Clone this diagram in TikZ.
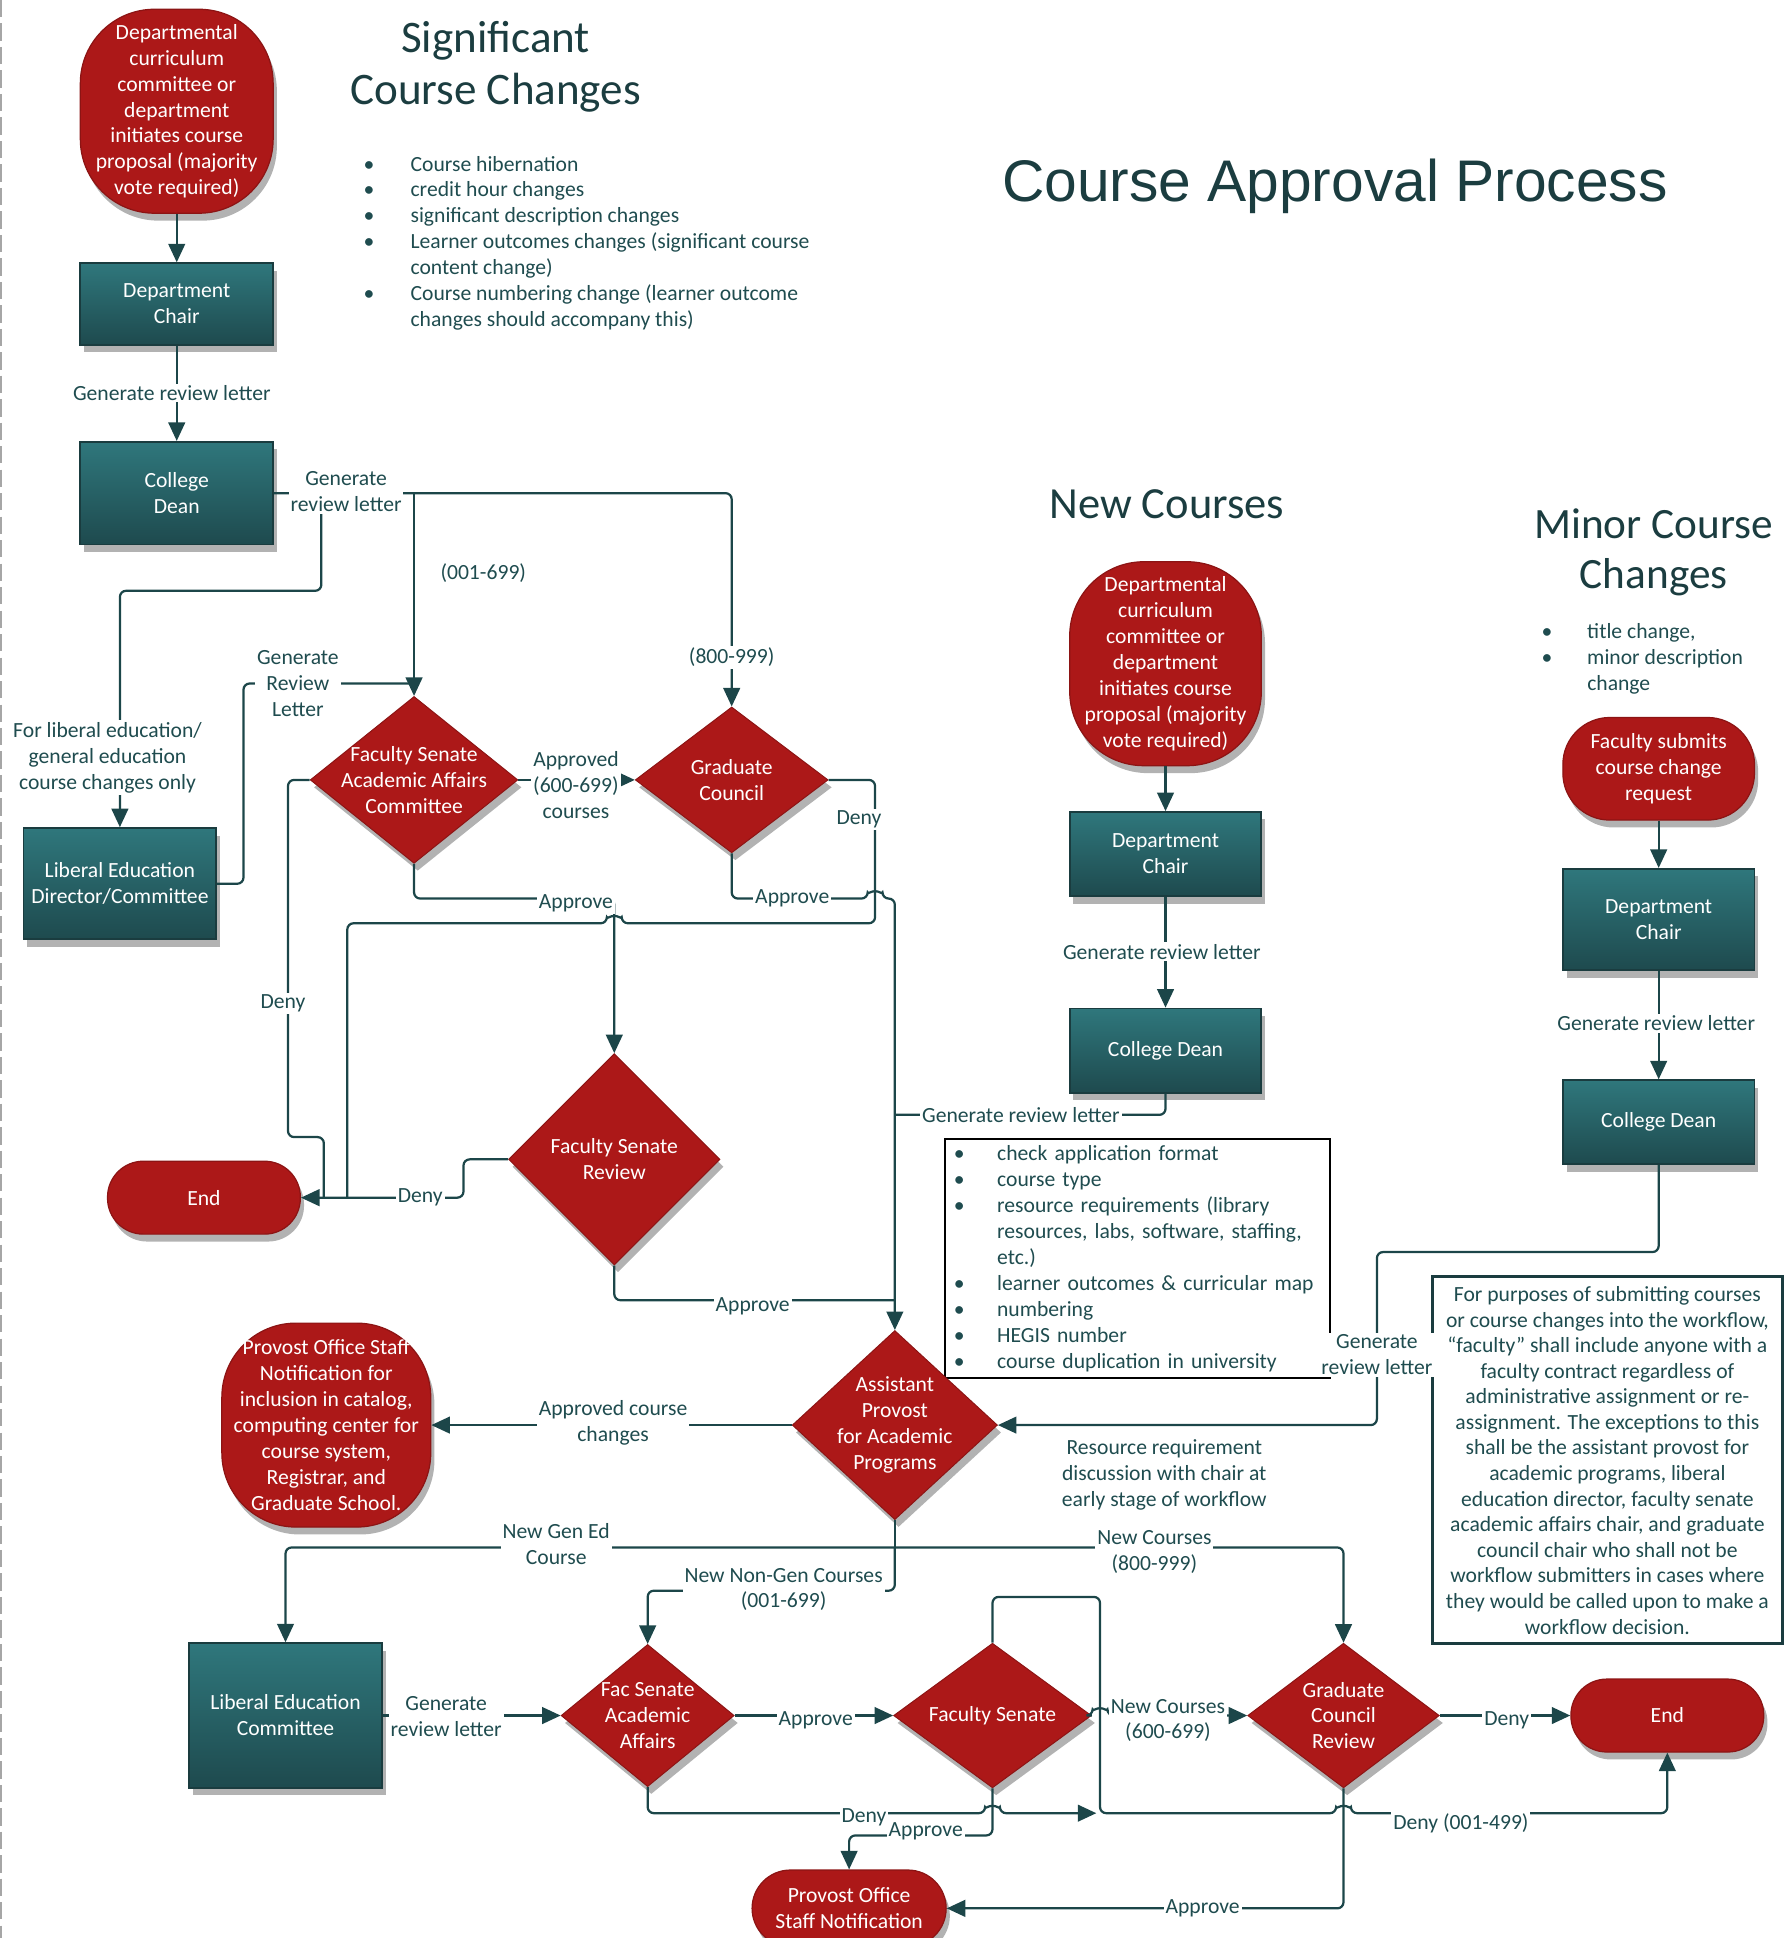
\documentclass[tikz,border=0pt]{standalone}
\usepackage{fontspec}
\setmainfont{Carlito}
\newfontfamily\arialf{Liberation Sans}
\usetikzlibrary{shapes.geometric,arrows.meta,shadows}
\definecolor{redf}{HTML}{AC1818}
\definecolor{redd}{HTML}{8C1414}
\definecolor{tealt}{HTML}{2F777C}
\definecolor{tealb}{HTML}{1E4A4E}
\definecolor{teald}{HTML}{1A3C3F}
\definecolor{linec}{HTML}{1C4649}
\definecolor{txtc}{HTML}{1F4C4F}
\definecolor{titc}{HTML}{1B3D40}
\begin{document}
\begin{tikzpicture}[x=1pt,y=-1pt,
  every node/.style={font=\fontsize{17.5}{21}\selectfont, inner sep=0pt, align=center},
  shad/.style={drop shadow={shadow xshift=3pt,shadow yshift=-6pt,opacity=0.3,fill=black}},
  tbox/.style={rectangle, draw=teald, line width=1.5pt, top color=tealt, bottom color=tealb, text=white, shad},
  rpill/.style={rectangle, rounded corners=#1, draw=redd, line width=1pt, fill=redf, text=white, shad},
  dia/.style={diamond, fill=redf, draw=redd, line width=0.8pt, shad},
  wtxt/.style={text=white},
  conn/.style={draw=linec, line width=1.8pt, rounded corners=5pt},
  arr/.style={conn, -{Triangle[length=15pt,width=13.5pt]}},
  lbl/.style={text=txtc, fill=white, inner sep=1.5pt},
  txt/.style={text=txtc},
]
\useasboundingbox (0,0) rectangle (1444,1568);
\draw[black!35, line width=1.2pt, dash pattern=on 14pt off 5pt] (1,0) -- (1,1568);

% ---------- titles and texts ----------
\node[text=titc, font=\fontsize{36.5}{42}\selectfont] (tsig) at (401,54) {Significant\\Course Changes};
\node[text=titc, font=\arialf\fontsize{47.5}{50}\selectfont] (tmain) at (1080,151) {Course Approval Process};
\node[text=titc, font=\fontsize{36}{42}\selectfont] (tnew) at (944,408) {New Courses};
\node[text=titc, font=\fontsize{35}{41}\selectfont] (tmin) at (1338,447) {Minor Course\\Changes};

\node[txt, anchor=north west, align=left] (sigl) at (294,126) {%
\makebox[38pt][l]{\textbullet}Course hibernation\\
\makebox[38pt][l]{\textbullet}credit hour changes\\
\makebox[38pt][l]{\textbullet}significant description changes\\
\makebox[38pt][l]{\textbullet}Learner outcomes changes (significant course\\
\makebox[38pt][l]{}content change)\\
\makebox[38pt][l]{\textbullet}Course numbering change (learner outcome\\
\makebox[38pt][l]{}changes should accompany this)};

\node[txt, anchor=north west, align=left] (minl) at (1247,504) {%
\makebox[37pt][l]{\textbullet}title change,\\
\makebox[37pt][l]{\textbullet}minor description\\
\makebox[37pt][l]{}change};

% ---------- significant changes column ----------
\node[rpill=60pt, minimum width=156pt, minimum height=165pt] (s1) at (143,90) {Departmental\\curriculum\\committee or\\department\\initiates course\\proposal (majority\\vote required)};
\node[tbox, minimum width=156pt, minimum height=66pt] (dc1) at (143,246) {Department\\Chair};
\node[tbox, minimum width=156pt, minimum height=83pt] (cd1) at (143,399) {College\\Dean};
\node[tbox, minimum width=156pt, minimum height=90pt] (led) at (97,715) {Liberal Education\\Director/Committee};

\node[dia, minimum width=168pt, minimum height=135pt] (fsaac) at (335,631) {};
\node[wtxt] (fsaact) at (fsaac) {Faculty Senate\\Academic Affairs\\Committee};
\node[dia, minimum width=156pt, minimum height=118pt] (gc) at (592,631) {};
\node[wtxt] (gct) at (gc) {Graduate\\Council};
\node[dia, minimum width=171pt, minimum height=171pt] (fsr) at (497,938) {};
\node[wtxt] (fsrt) at (fsr) {Faculty Senate\\Review};
\node[rpill=29pt, minimum width=156pt, minimum height=59pt] (end1) at (165,969) {End};

% ---------- new courses column ----------
\node[rpill=60pt, minimum width=155pt, minimum height=165pt] (s2) at (943,537) {Departmental\\curriculum\\committee or\\department\\initiates course\\proposal (majority\\vote required)};
\node[tbox, minimum width=155pt, minimum height=68pt] (dc2) at (943,691) {Department\\Chair};
\node[tbox, minimum width=155pt, minimum height=68pt] (cd2) at (943,850) {College Dean};

% ---------- minor changes column ----------
\node[rpill=38pt, minimum width=155pt, minimum height=83pt] (s3) at (1342,622) {Faculty submits\\course change\\request};
\node[tbox, minimum width=155pt, minimum height=82pt] (dc3) at (1342,744) {Department\\Chair};
\node[tbox, minimum width=155pt, minimum height=68pt] (cd3) at (1342,908) {College Dean};

% ---------- boxes ----------
\node[draw=black, line width=1.5pt, anchor=north west, text width=297pt, align=left, inner xsep=7pt, inner ysep=5pt, minimum height=192pt, text=txtc] (chk) at (764,921) {%
\makebox[35pt][l]{\textbullet}check application format\\
\makebox[35pt][l]{\textbullet}course type\\
\makebox[35pt][l]{\textbullet}resource requirements (library\\
\makebox[35pt][l]{}resources, labs, software, staffing,\\
\makebox[35pt][l]{}etc.)\\
\makebox[35pt][l]{\textbullet}learner outcomes \& curricular map\\
\makebox[35pt][l]{\textbullet}numbering\\
\makebox[35pt][l]{\textbullet}HEGIS number\\
\makebox[35pt][l]{\textbullet}course duplication in university};

\node[draw=teald, line width=2.5pt, minimum width=283pt, minimum height=297pt, text=txtc, font=\fontsize{17.5}{20.7}\selectfont] (fbox) at (1300.5,1181.5) {For purposes of submitting courses\\or course changes into the workflow,\\“faculty” shall include anyone with a\\faculty contract regardless of\\administrative assignment or re-\\assignment. The exceptions to this\\shall be the assistant provost for\\academic programs, liberal\\education director, faculty senate\\academic affairs chair, and graduate\\council chair who shall not be\\workflow submitters in cases where\\they would be called upon to make a\\workflow decision.};

% ---------- lower flow ----------
\node[dia, minimum width=166pt, minimum height=153pt] (apap) at (724,1153) {};
\node[wtxt] (apapt) at (apap) {Assistant\\Provost\\for Academic\\Programs};
\node[rpill=60pt, minimum width=169pt, minimum height=165pt] (pos1) at (264,1153) {Provost Office Staff\\Notification for\\inclusion in catalog,\\computing center for\\course system,\\Registrar, and\\Graduate School.};
\node[tbox, minimum width=156pt, minimum height=117pt] (lec) at (231,1388) {Liberal Education\\Committee};
\node[dia, minimum width=140pt, minimum height=115pt] (fsaa) at (524,1388) {};
\node[wtxt] (fsaat) at (fsaa) {Fac Senate\\Academic\\Affairs};
\node[dia, minimum width=160pt, minimum height=117pt] (fs) at (803,1388) {};
\node[wtxt] (fst) at (fs) {Faculty Senate};
\node[dia, minimum width=155pt, minimum height=117pt] (gcr) at (1087,1388) {};
\node[wtxt] (gcrt) at (gcr) {Graduate\\Council\\Review};
\node[rpill=29pt, minimum width=156pt, minimum height=59pt] (end2) at (1349,1388) {End};
\node[rpill=31pt, minimum width=157pt, minimum height=62pt] (pos2) at (687,1544) {Provost Office\\Staff Notification};

\coordinate (j0) at (335,399);
\coordinate (j1) at (260,399);
\coordinate (j2) at (724,1252);

% ---------- connectors ----------
\draw[arr] (s1) -- (dc1);
\draw[arr] (dc1) -- (cd1);
\draw[arr] (cd1.east) -| (gc.north);
\draw[arr] (j0) -- (fsaac.north);
\draw[arr] (j1) -- (260,478) -| (led.north);
\draw[conn] (led.east) -| (197,553) -- (335,553);
\draw[arr] (fsaac.east) -- (gc.west);
\draw[conn] (fsaac.west) -- (233,631) -- (233,920) -- (262,920) -- (262,969);
\draw[arr] (fsr.west) -- (375,938) -- (375,969) -- (end1.east);
\draw[conn] (gc.east) -- (708,631) -- (708,747) -- (503,747) arc[start angle=0,end angle=180,radius=6pt] -- (281,747) -- (281,969);
\draw[arr] (fsaac.south) -- (335,727) -- (497,727) -- (fsr.north);
\draw[arr] (gc.south) -- (592,727) -- (702,727) arc[start angle=180,end angle=0,radius=6pt] -- (724,727) -- (apap.north);
\draw[conn] (fsr.south) -- (497,1052) -- (724,1052);

\draw[arr] (s2) -- (dc2);
\draw[arr] (dc2) -- (cd2);
\draw[conn] (cd2.south) -- (943,902) -- (724,902);

\draw[arr] (s3) -- (dc3);
\draw[arr] (dc3) -- (cd3);
\draw[arr] (cd3.south) -- (1342,1013) -- (1114,1013) -- (1114,1153) -- (apap.east);

\draw[arr] (apap.west) -- (pos1.east);
\draw[conn] (apap.south) -- (j2);
\draw[arr] (j2) -| (lec.north);
\draw[arr] (j2) -| (gcr.north);
\draw[arr] (j2) -- (724,1287) -| (fsaa.north);
\draw[arr] (lec.east) -- (fsaa.west);
\draw[arr] (fsaa.east) -- (fs.west);
\draw[arr] (fs.east) -- (884,1388) arc[start angle=180,end angle=0,radius=6pt] -- (gcr.west);
\draw[arr] (gcr.east) -- (end2.west);
\draw[arr] (fs.north) -- (803,1292) -- (890,1292) -- (890,1467) -- (1081,1467) arc[start angle=180,end angle=0,radius=6pt] -- (1349,1467) -- (end2.south);
\draw[arr] (fsaa.south) -- (524,1467) -- (797,1467) arc[start angle=180,end angle=0,radius=6pt] -- (887,1467);
\draw[arr] (fs.south) -- (803,1485) -- (687,1485) -- (pos2.north);
\draw[arr] (gcr.south) -- (1087,1544) -- (pos2.east);

% ---------- labels ----------
\node[lbl] (l1) at (139,318) {Generate review letter};
\node[lbl] (l2) at (280,398) {Generate\\review letter};
\node[lbl] (l3) at (87,613) {For liberal education/\\general education\\course changes only};
\node[lbl] (l4) at (241,553) {Generate\\Review\\Letter};
\node[lbl] (l5) at (592,532) {(800-999)};
\node[txt] (l6) at (391,464) {(001-699)};
\node[lbl] (l7) at (466,635) {Approved\\(600-699)\\courses};
\node[lbl] (l8) at (229,812) {Deny};
\node[lbl] (l9) at (340,969) {Deny};
\node[lbl] (l10) at (695,663) {Deny};
\node[lbl] (l11) at (466,731) {Approve};
\node[lbl] (l12) at (641,727) {Approve};
\node[lbl] (l13) at (609,1057) {Approve};
\node[lbl] (l14) at (940,770) {Generate review letter};
\node[lbl] (l15) at (826,902) {Generate review letter};
\node[lbl] (l16) at (1340,828) {Generate review letter};
\node[lbl] (l17) at (1114,1096) {Generate\\review letter};
\node[lbl] (l18) at (496,1151) {Approved course\\changes};
\node[txt] (l19) at (942,1193) {Resource requirement\\discussion with chair at\\early stage of workflow};
\node[lbl] (l20) at (450,1249) {New Gen Ed\\Course};
\node[lbl] (l21) at (934,1256) {New Courses\\(800-999)};
\node[lbl] (l22) at (634,1286) {New Non-Gen Courses\\(001-699)};
\node[lbl] (l23) at (361,1389) {Generate\\review letter};
\node[lbl] (l24) at (660,1392) {Approve};
\node[lbl] (l25) at (945,1392) {New Courses\\(600-699)};
\node[lbl] (l26) at (1219,1392) {Deny};
\node[lbl] (l27) at (1182,1475) {Deny (001-499)};
\node[lbl] (l28) at (699,1470) {Deny};
\node[lbl] (l29) at (749,1482) {Approve};
\node[lbl] (l30) at (973,1544) {Approve};
\end{tikzpicture}
\end{document}
